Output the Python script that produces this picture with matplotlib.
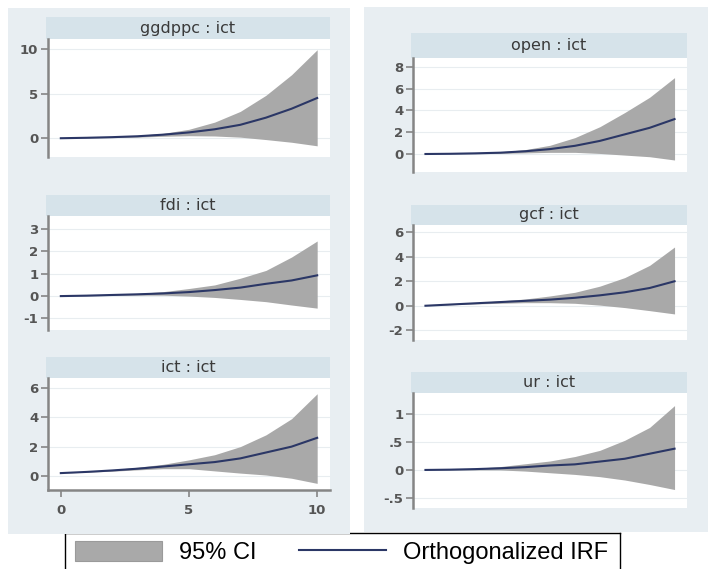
import matplotlib
matplotlib.use("Agg")
import matplotlib.pyplot as plt
from matplotlib.patches import Rectangle, Patch
from matplotlib.lines import Line2D

W, H = 708, 569

steps = list(range(11))

# ---- data ----
ggdppc_irf = [0, 0.05, 0.12, 0.22, 0.40, 0.65, 1.00, 1.50, 2.30, 3.30, 4.50]
ggdppc_hi = [0, 0.07, 0.17, 0.32, 0.55, 1.00, 1.80, 3.00, 4.80, 7.10, 9.90]
ggdppc_lo = [0, 0.03, 0.07, 0.12, 0.22, 0.28, 0.25, 0.12, -0.15, -0.45, -0.85]

fdi_irf = [0, 0.02, 0.05, 0.08, 0.12, 0.18, 0.27, 0.38, 0.55, 0.70, 0.93]
fdi_hi = [0, 0.03, 0.07, 0.12, 0.20, 0.34, 0.50, 0.80, 1.15, 1.75, 2.47]
fdi_lo = [0, 0.01, 0.03, 0.04, 0.04, 0.00, -0.06, -0.15, -0.25, -0.40, -0.54]

ict_irf = [0.20, 0.28, 0.38, 0.50, 0.65, 0.80, 0.95, 1.20, 1.60, 2.00, 2.60]
ict_hi = [0.20, 0.30, 0.43, 0.60, 0.80, 1.10, 1.45, 2.00, 2.80, 3.90, 5.60]
ict_lo = [0.20, 0.26, 0.33, 0.42, 0.50, 0.50, 0.35, 0.20, 0.07, -0.15, -0.50]

open_irf = [0, 0.02, 0.06, 0.12, 0.25, 0.45, 0.75, 1.20, 1.80, 2.40, 3.20]
open_hi = [0, 0.03, 0.10, 0.20, 0.40, 0.80, 1.50, 2.50, 3.80, 5.20, 7.00]
open_lo = [0, 0.01, 0.03, 0.05, 0.10, 0.15, 0.15, 0.05, -0.10, -0.25, -0.55]

gcf_irf = [0, 0.10, 0.20, 0.30, 0.40, 0.50, 0.65, 0.85, 1.10, 1.45, 2.00]
gcf_hi = [0, 0.12, 0.25, 0.40, 0.55, 0.80, 1.10, 1.60, 2.30, 3.30, 4.80]
gcf_lo = [0, 0.08, 0.15, 0.20, 0.25, 0.25, 0.20, 0.05, -0.15, -0.40, -0.67]

ur_irf = [0, 0.005, 0.015, 0.03, 0.05, 0.08, 0.10, 0.15, 0.20, 0.29, 0.38]
ur_hi = [0, 0.01, 0.03, 0.06, 0.11, 0.16, 0.24, 0.35, 0.53, 0.76, 1.15]
ur_lo = [0, 0.0, 0.0, 0.0, -0.02, -0.05, -0.08, -0.12, -0.18, -0.26, -0.35]

titles = ["ggdppc : ict", "fdi : ict", "ict : ict", "open : ict", "gcf : ict", "ur : ict"]

ggdppc_ticks = [0, 5, 10]
ggdppc_labels = ["0", "5", "10"]
fdi_ticks = [-1, 0, 1, 2, 3]
fdi_labels = ["-1", "0", "1", "2", "3"]
ict_ticks = [0, 2, 4, 6]
ict_labels = ["0", "2", "4", "6"]
open_ticks = [0, 2, 4, 6, 8]
open_labels = ["0", "2", "4", "6", "8"]
gcf_ticks = [-2, 0, 2, 4, 6]
gcf_labels = ["-2", "0", "2", "4", "6"]
ur_ticks = [-0.5, 0, 0.5, 1]
ur_labels = ["-.5", "0", ".5", "1"]
x_ticks = [0, 5, 10]
x_labels = ["0", "5", "10"]

legend_labels = ["95% CI", "Orthogonalized IRF"]

# ---- style ----
PANEL = "#e8eef2"
STRIP = "#d6e3ea"
BAND = "#a9a9a9"
LINE = "#2b3766"
AXIS = "#858585"
TICKLAB = "#555555"

fig = plt.figure(figsize=(W / 100, H / 100), dpi=100)


def box(x0, y0, x1, y1):
    return [x0 / W, 1 - y1 / H, (x1 - x0) / W, (y1 - y0) / H]


# panel backgrounds
for (x0, y0, x1, y1) in [(8, 8, 350, 534), (364, 7, 708, 532)]:
    fig.add_artist(Rectangle((x0 / W, 1 - y1 / H), (x1 - x0) / W, (y1 - y0) / H,
                             transform=fig.transFigure, facecolor=PANEL,
                             edgecolor="none", zorder=-1))

# legend box (bottom cut off by the figure edge)
lax = fig.add_axes(box(65, 533, 620, 590), zorder=-2)
lax.set_xticks([])
lax.set_yticks([])
for s in lax.spines.values():
    s.set_color("black")
    s.set_linewidth(1.0)
lax.set_facecolor("white")
handles = [Patch(facecolor=BAND, edgecolor="#9a9a9a", linewidth=0.8),
           Line2D([], [], color=LINE, linewidth=1.5)]
leg = lax.legend(handles, legend_labels, ncol=2, frameon=False,
                 loc="upper left", bbox_to_anchor=(10 / 555, 1 - 8 / 57),
                 borderaxespad=0, borderpad=0,
                 handlelength=3.7, handleheight=0.9, handletextpad=0.7,
                 columnspacing=1.8,
                 prop={"family": "Liberation Sans", "size": 17})

specs = [
    (48, 330, 17, 39, 157, (ggdppc_irf, ggdppc_lo, ggdppc_hi), (-2.1, 11.1), ggdppc_ticks, ggdppc_labels, False, titles[0]),
    (48, 330, 195, 216, 330, (fdi_irf, fdi_lo, fdi_hi), (-1.52, 3.59), fdi_ticks, fdi_labels, False, titles[1]),
    (48, 330, 357, 378, 490, (ict_irf, ict_lo, ict_hi), (-0.95, 6.67), ict_ticks, ict_labels, True, titles[2]),
    (413, 687, 33, 58, 172, (open_irf, open_lo, open_hi), (-1.65, 8.8), open_ticks, open_labels, False, titles[3]),
    (413, 687, 205, 225, 340, (gcf_irf, gcf_lo, gcf_hi), (-2.8, 6.6), gcf_ticks, gcf_labels, False, titles[4]),
    (413, 687, 372, 393, 508, (ur_irf, ur_lo, ur_hi), (-0.68, 1.375), ur_ticks, ur_labels, False, titles[5]),
]

for (x0, x1, sy0, ay0, ay1, data, ylim, yt, yl, showx, title) in specs:
    irf, lo, hi = data
    # strip
    sax = fig.add_axes(box(x0 - 2, sy0, x1, ay0))
    sax.set_facecolor(STRIP)
    sax.set_xticks([])
    sax.set_yticks([])
    for s in sax.spines.values():
        s.set_visible(False)
    sax.text(0.5, 0.5, title, ha="center", va="center", transform=sax.transAxes,
             family="DejaVu Sans", fontsize=11.5, color="#3a3a3a")

    ax = fig.add_axes(box(x0, ay0, x1, ay1))
    ax.set_facecolor("white")
    ax.fill_between(steps, lo, hi, color=BAND, linewidth=0, zorder=2)
    ax.plot(steps, irf, color=LINE, linewidth=1.5, zorder=3)
    ax.set_xlim(-0.5, 10.5)
    ax.set_ylim(*ylim)
    ax.set_yticks(yt)
    ax.set_yticklabels(yl)
    ax.grid(axis="y", color="#e8edf0", linewidth=0.8, zorder=1)
    ax.set_axisbelow(True)
    for k in ["top", "right"]:
        ax.spines[k].set_visible(False)
    ax.spines["left"].set_color(AXIS)
    ax.spines["left"].set_linewidth(1.8)
    ax.tick_params(axis="y", direction="out", length=5, width=1.2, color=AXIS,
                   pad=2, labelsize=9.5, labelcolor=TICKLAB)
    for t in ax.get_yticklabels():
        t.set_fontweight("bold")
        t.set_family("DejaVu Sans")
    if showx:
        ax.spines["bottom"].set_color(AXIS)
        ax.spines["bottom"].set_linewidth(1.8)
        ax.set_xticks(x_ticks)
        ax.set_xticklabels(x_labels)
        ax.tick_params(axis="x", direction="out", length=5, width=1.2, color=AXIS,
                       pad=5, labelsize=9.5, labelcolor=TICKLAB)
        for t in ax.get_xticklabels():
            t.set_fontweight("bold")
            t.set_family("DejaVu Sans")
    else:
        ax.spines["bottom"].set_visible(False)
        ax.set_xticks([])

fig.savefig("out.png", dpi=100)
